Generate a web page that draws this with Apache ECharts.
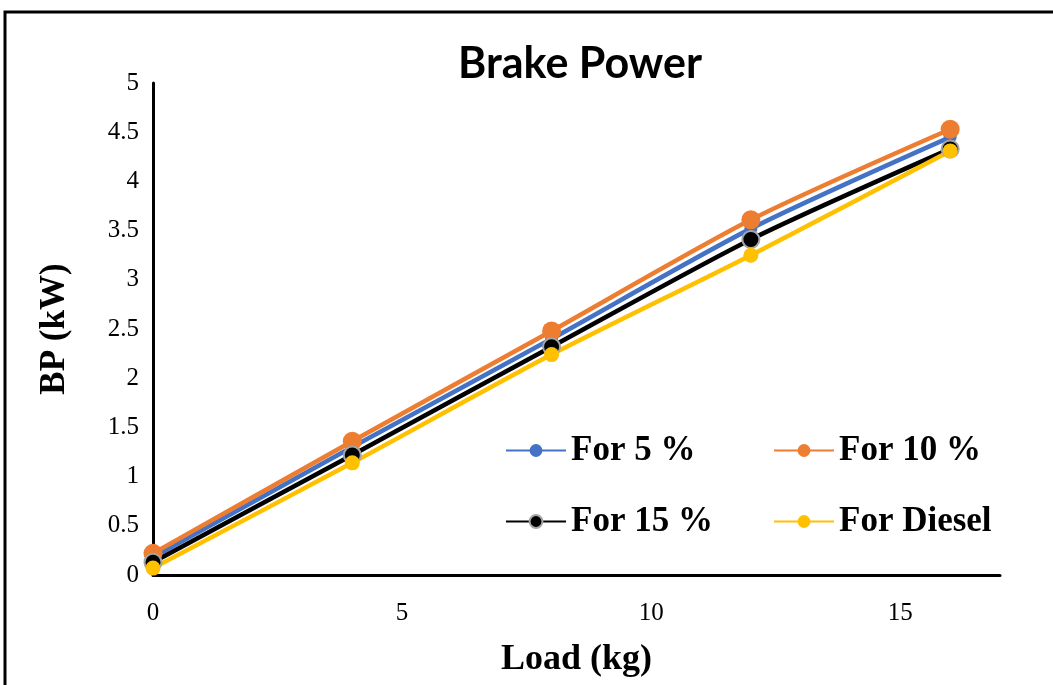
<!DOCTYPE html>
<html>
<head>
<meta charset="utf-8">
<script src="https://cdn.jsdelivr.net/npm/echarts@6/dist/echarts.min.js"></script>
<style>
  html, body { margin: 0; padding: 0; background: #fff; }
  #chart { width: 1053px; height: 685px; }
</style>
</head>
<body>
<div id="chart"></div>
<script>
const loads = [0, 4, 8, 12, 16];
const for5 = [0.18, 1.30, 2.40, 3.52, 4.45];
const for10 = [0.22, 1.36, 2.48, 3.61, 4.53];
const for15 = [0.13, 1.22, 2.32, 3.41, 4.33];
const forDiesel = [0.07, 1.14, 2.24, 3.25, 4.31];

const pairs = (ys) => loads.map((x, i) => [x, ys[i]]);

// legend look shared by both columns
const legendText = { fontFamily: 'Liberation Serif', fontWeight: 'bold', fontSize: 35, color: '#000' };

let myChart = echarts.init(document.getElementById('chart'));
myChart.setOption({
    animation: false,
    title: {
        text: 'Brake Power',
        left: 575,
        textAlign: 'center',
        top: 38,
        textStyle: { fontFamily: 'Lato', fontWeight: 'bold', fontSize: 43, color: '#000' }
    },
    graphic: [{
        type: 'rect',
        shape: { x: 5, y: 12, width: 1100, height: 720 },
        style: { fill: 'none', stroke: '#000', lineWidth: 3 }
    }],
    legend: [
        {
            orient: 'vertical', left: 500, top: 428,
            itemWidth: 60, itemHeight: 16, itemGap: 36,
            textStyle: legendText,
            data: ['For 5 %', 'For 15 %']
        },
        {
            orient: 'vertical', left: 768, top: 428,
            itemWidth: 60, itemHeight: 16, itemGap: 36,
            textStyle: legendText,
            data: ['For 10 %', 'For Diesel']
        }
    ],
    grid: { left: 153, right: 53, top: 83, bottom: 110 },
    xAxis: {
        type: 'value',
        min: 0,
        max: 17,
        interval: 5,
        name: 'Load (kg)',
        nameLocation: 'middle',
        nameGap: 67,
        nameTextStyle: { fontFamily: 'Liberation Serif', fontWeight: 'bold', fontSize: 36, color: '#000' },
        axisLine: { lineStyle: { color: '#000', width: 3 } },
        axisTick: { show: false },
        splitLine: { show: false },
        axisLabel: { showMaxLabel: false, fontFamily: 'Liberation Serif', fontSize: 25, color: '#000', margin: 26 }
    },
    yAxis: {
        type: 'value',
        min: 0,
        max: 5,
        interval: 0.5,
        name: 'BP (kW)',
        nameLocation: 'middle',
        nameGap: 81,
        nameTextStyle: { fontFamily: 'Liberation Serif', fontWeight: 'bold', fontSize: 35, color: '#000' },
        axisLine: { show: true, lineStyle: { color: '#000', width: 3 } },
        axisTick: { show: false },
        splitLine: { show: false },
        axisLabel: { fontFamily: 'Liberation Serif', fontSize: 25, color: '#000', margin: 14 }
    },
    series: [
        {
            name: 'For 5 %', type: 'line', smooth: 0.25, data: pairs(for5),
            symbol: 'circle', symbolSize: 13,
            lineStyle: { color: '#4472C4', width: 4.5 },
            itemStyle: { color: '#4472C4' }
        },
        {
            name: 'For 10 %', type: 'line', smooth: 0.25, data: pairs(for10),
            symbol: 'circle', symbolSize: 19,
            lineStyle: { color: '#ED7D31', width: 4.5 },
            itemStyle: { color: '#ED7D31' }
        },
        {
            name: 'For 15 %', type: 'line', smooth: 0.25, data: pairs(for15),
            symbol: 'circle', symbolSize: 17,
            lineStyle: { color: '#000', width: 4.5 },
            itemStyle: { color: '#000', borderColor: '#A5A5A5', borderWidth: 2 }
        },
        {
            name: 'For Diesel', type: 'line', smooth: 0.25, data: pairs(forDiesel),
            symbol: 'circle', symbolSize: 15,
            lineStyle: { color: '#FFC000', width: 4.5 },
            itemStyle: { color: '#FFC000' }
        }
    ]
});
</script>
</body>
</html>
